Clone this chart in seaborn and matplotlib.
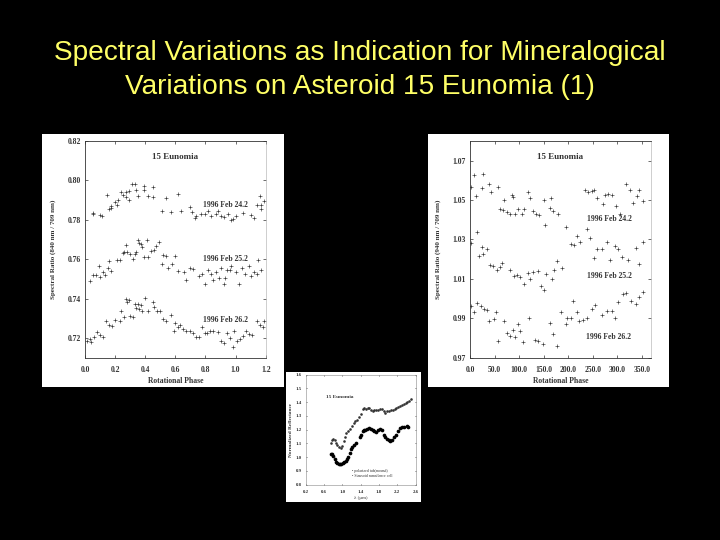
import pandas as pd
import numpy as np
import matplotlib
matplotlib.use('Agg')
import matplotlib.pyplot as plt
import seaborn as sns

title_lines = ['Spectral Variations as Indication for Mineralogical', 'Variations on Asteroid 15 Eunomia (1)']

# left panel, 840/709 style ratio vs phase
feb24_x = [.05,.05,.10,.11,.145,.16,.17,.175,.20,.21,.22,.24,.25,.27,.27,.29,.29,.31,.33,.34,.355,.39,.39,.42,.45,.45,.51,.54,.57,.62,.64,.695,.71,.73,.74,.77,.80,.82,.84,.87,.88,.90,.92,.95,.97,.98,1.0,1.05,1.10,1.12,1.14,1.16,1.17,1.17,1.19]
feb24_y = [.783,.7835,.7825,.782,.7925,.7855,.787,.786,.789,.7875,.79,.794,.7925,.794,.7915,.7945,.79,.798,.798,.795,.792,.797,.795,.792,.7965,.7915,.7845,.791,.784,.793,.7845,.7865,.784,.781,.782,.783,.783,.7845,.782,.783,.7845,.782,.7815,.783,.78,.7805,.782,.7835,.7825,.781,.7875,.792,.7875,.7855,.7895]
feb25_x = [.03,.05,.07,.09,.10,.12,.13,.15,.16,.17,.21,.23,.25,.26,.27,.28,.30,.32,.33,.34,.35,.36,.37,.38,.39,.41,.42,.44,.46,.47,.49,.51,.52,.54,.55,.58,.60,.62,.66,.67,.70,.72,.76,.78,.80,.82,.84,.85,.87,.89,.90,.92,.93,.94,.96,.97,1.0,1.02,1.04,1.06,1.09,1.10,1.12,1.14,1.15,1.17]
feb25_y = [.749,.752,.752,.7565,.751,.7535,.752,.7555,.759,.754,.7595,.7595,.763,.7635,.767,.7635,.7625,.760,.7625,.7635,.770,.768,.7675,.766,.761,.7695,.761,.764,.7645,.7665,.7685,.7575,.762,.7615,.7555,.7575,.7615,.754,.7535,.7495,.7555,.755,.7515,.7525,.7475,.7545,.7525,.7495,.7535,.7505,.7555,.7475,.7505,.7545,.7545,.7565,.7535,.7475,.7555,.7525,.7565,.7515,.7535,.7525,.7595,.7545]
feb26_x = [.01,.03,.04,.06,.08,.10,.12,.14,.16,.18,.20,.23,.24,.26,.27,.28,.29,.30,.32,.33,.34,.35,.36,.37,.38,.40,.42,.45,.46,.48,.50,.52,.54,.57,.59,.60,.62,.63,.65,.67,.70,.72,.74,.76,.78,.80,.81,.83,.85,.88,.90,.92,.94,.96,.98,.99,1.01,1.03,1.05,1.07,1.09,1.11,1.14,1.16,1.18,1.19]
feb26_y = [.7185,.7195,.718,.7205,.723,.7215,.7205,.7285,.7265,.726,.729,.7285,.7335,.7305,.740,.7385,.7395,.731,.7305,.7375,.735,.7375,.7345,.7365,.7335,.7405,.7335,.7385,.7355,.7335,.7335,.7295,.7285,.7315,.7235,.7275,.7255,.7265,.7245,.7235,.7235,.7225,.7205,.7205,.7255,.7225,.7225,.7235,.7235,.7230,.7185,.7175,.7225,.7200,.7155,.7235,.7185,.7195,.7210,.7235,.7220,.7215,.7285,.7265,.7255,.7285]

# right panel, 940/709 ratio vs rotational phase
r24_x = [3,8,12,25,27,38,42,57,62,68,70,75,82,85,88,92,98,105,110,118,122,128,135,140,150,152,162,165,170,180,235,240,248,252,258,270,275,282,290,298,305,318,325,332,340,345,352]
r24_y = [1.0565,1.0625,1.0520,1.0560,1.0630,1.0580,1.0540,1.0565,1.0455,1.0450,1.0500,1.0440,1.0430,1.0525,1.0515,1.0430,1.0455,1.0430,1.0455,1.0540,1.0510,1.0445,1.0430,1.0425,1.0500,1.0375,1.0460,1.0510,1.0445,1.0430,1.0550,1.0540,1.0545,1.0550,1.0510,1.0480,1.0525,1.0530,1.0525,1.0470,1.0430,1.0580,1.0550,1.0485,1.0520,1.0550,1.0495]
r25_x = [2,14,18,24,27,35,40,47,55,62,65,82,90,95,102,110,118,122,128,138,145,150,155,168,172,178,188,195,205,212,218,225,238,245,252,258,268,278,285,295,302,310,322,338,345,352]
r25_y = [1.0280,1.0340,1.0215,1.0260,1.0225,1.0250,1.0170,1.0165,1.0145,1.0160,1.0180,1.0145,1.0115,1.0120,1.0110,1.0075,1.0130,1.0100,1.0135,1.0140,1.0065,1.0045,1.0125,1.0100,1.0145,1.0190,1.0155,1.0365,1.0275,1.0270,1.0320,1.0285,1.0355,1.0310,1.0205,1.0250,1.0250,1.0285,1.0195,1.0265,1.0250,1.0210,1.0195,1.0255,1.0175,1.0285]
r26_x = [2,8,14,22,28,34,38,48,52,58,70,75,82,88,92,98,102,108,120,132,138,148,162,170,178,185,195,198,205,210,218,222,230,238,248,255,268,278,290,295,302,312,318,328,338,345,352]
r26_y = [.9960,.9930,.9980,.9960,.9945,.9940,.9885,.9895,.9930,.9785,.9885,.9825,.9810,.9840,.9805,.9870,.9835,.9780,.9900,.9790,.9785,.9770,.9875,.9820,.9760,.9930,.9870,.9900,.9900,.9990,.9930,.9885,.9890,.9900,.9945,.9965,.9915,.9935,.9935,.9900,.9985,1.0025,1.0030,.9990,.9975,1.0010,1.0035]

# bottom panel, reflectance spectra
up_x = [.75,.78,.80,.83,.86,.89,.93,.96,.99,1.03,1.06,1.09,1.13,1.17,1.21,1.25,1.27,1.32,1.37,1.41,1.45,1.48,1.52,1.55,1.58,1.62,1.66,1.70,1.74,1.78,1.82,1.86,1.90,1.94,1.98,2.02,2.06,2.10,2.14,2.18,2.22,2.26,2.30,2.34,2.38,2.42,2.46,2.50]
up_y = [1.103,1.125,1.130,1.122,1.105,1.088,1.075,1.070,1.085,1.115,1.145,1.176,1.190,1.205,1.225,1.250,1.262,1.270,1.295,1.315,1.350,1.355,1.353,1.360,1.358,1.345,1.338,1.340,1.345,1.342,1.350,1.353,1.335,1.325,1.333,1.335,1.340,1.345,1.350,1.360,1.368,1.372,1.380,1.385,1.395,1.405,1.412,1.425]
lo_x = [.745,.77,.80,.83,.86,.89,.92,.95,.98,1.01,1.04,1.07,1.10,1.13,1.16,1.19,1.22,1.25,1.29,1.39,1.41,1.44,1.47,1.50,1.54,1.58,1.62,1.66,1.70,1.74,1.78,1.83,1.86,1.90,1.94,1.98,2.02,2.05,2.09,2.13,2.18,2.22,2.26,2.30,2.35,2.40,2.43]
lo_y = [1.023,1.020,1.006,.985,.968,.958,.953,.950,.952,.955,.962,.975,.990,1.005,1.030,1.060,1.075,1.090,1.100,1.150,1.165,1.190,1.195,1.200,1.205,1.212,1.208,1.200,1.188,1.182,1.198,1.207,1.195,1.165,1.150,1.130,1.122,1.115,1.125,1.145,1.165,1.190,1.215,1.222,1.218,1.225,1.220]

left_df = pd.DataFrame({'x': feb24_x + feb25_x + feb26_x, 'y': feb24_y + feb25_y + feb26_y})
right_df = pd.DataFrame({'x': r24_x + r25_x + r26_x, 'y': r24_y + r25_y + r26_y})

sns.set_theme(style='white')
plt.rcParams['font.family'] = ['Liberation Serif', 'DejaVu Serif']
dark = '#333333'

W, H = 720, 540
fig = plt.figure(figsize=(7.2, 5.4), dpi=100, facecolor='black')

def box(x0, y0, x1, y1):
    return [x0 / W, 1 - y1 / H, (x1 - x0) / W, (y1 - y0) / H]

def paper(x0, y0, x1, y1):
    a = fig.add_axes(box(x0, y0, x1, y1), facecolor='white')
    a.set_xticks([])
    a.set_yticks([])
    sns.despine(ax=a, left=True, bottom=True)
    return a

def style(a, size=5.5, pad=6):
    for s in a.spines.values():
        s.set_visible(True)
        s.set_linewidth(0.6)
        s.set_color(dark)
    a.spines['right'].set_color('#aaaaaa')
    a.spines['right'].set_linewidth(0.4)
    a.tick_params(direction='in', length=2, width=0.5, labelsize=size, colors=dark, pad=pad, top=True, right=True, bottom=True, left=True)
    a.tick_params(axis='y', pad=3)
    for t in a.get_xticklabels() + a.get_yticklabels():
        t.set_fontweight('bold')

paper(42, 134, 284, 387)
paper(428, 134, 669, 387)
paper(286, 372, 421, 502)

# left
ax = fig.add_axes(box(85, 141, 265.7, 357.7), facecolor='white')
sns.scatterplot(data=left_df, x='x', y='y', marker='+', color=dark, s=8, linewidth=0.45, ax=ax)
ax.set_xlim(0, 1.2)
ax.set_ylim(0.71, 0.82)
ax.set_xticks([0, .2, .4, .6, .8, 1.0, 1.2])
ax.set_xticklabels(['0.0', '0.2', '0.4', '0.6', '0.8', '1.0', '1.2'])
ax.set_yticks([.72, .74, .76, .78, .80, .82])
ax.set_yticklabels(['0.72', '0.74', '0.76', '0.78', '0.80', '0.82'])
style(ax)
ax.set_xlabel('Rotational Phase', fontsize=5.5, fontweight='bold', color=dark, labelpad=2)
ax.set_ylabel('Spectral Ratio (840 nm / 709 nm)', fontsize=5, fontweight='bold', color=dark, labelpad=8)
ax.text(0.6, 0.8117, '15 Eunomia', fontsize=6.5, fontweight='bold', color=dark, ha='center', va='center')
for lbl, yy in zip(['1996 Feb 24.2', '1996 Feb 25.2', '1996 Feb 26.2'], [.7875, .7600, .7290]):
    ax.text(0.93, yy, lbl, fontsize=5.5, fontweight='bold', color=dark, ha='center', va='center')

# right
ax = fig.add_axes(box(470, 141, 650.7, 357.7), facecolor='white')
sns.scatterplot(data=right_df, x='x', y='y', marker='+', color=dark, s=8, linewidth=0.45, ax=ax)
ax.set_xlim(0, 368)
ax.set_ylim(0.97, 1.08)
ax.set_xticks([0, 50, 100, 150, 200, 250, 300, 350])
ax.set_xticklabels(['0.0', '50.0', '100.0', '150.0', '200.0', '250.0', '300.0', '350.0'])
ax.set_yticks([.97, .99, 1.01, 1.03, 1.05, 1.07])
ax.set_yticklabels(['0.97', '0.99', '1.01', '1.03', '1.05', '1.07'])
style(ax)
ax.set_xlabel('Rotational Phase', fontsize=5.5, fontweight='bold', color=dark, labelpad=2)
ax.set_ylabel('Spectral Ratio (940 nm / 709 nm)', fontsize=5, fontweight='bold', color=dark, labelpad=8)
ax.text(183, 1.0717, '15 Eunomia', fontsize=6.5, fontweight='bold', color=dark, ha='center', va='center')
for lbl, yy in zip(['1996 Feb 24.2', '1996 Feb 25.2', '1996 Feb 26.2'], [1.0406, 1.0115, .9803]):
    ax.text(283, yy, lbl, fontsize=5.5, fontweight='bold', color=dark, ha='center', va='center')

# bottom
ax = fig.add_axes(box(305.7, 374.7, 415.7, 484.7), facecolor='white')
sns.scatterplot(x=up_x, y=up_y, marker='o', color=dark, s=3.5, linewidth=0, ax=ax)
sns.scatterplot(x=lo_x, y=lo_y, marker='o', color='black', s=7, linewidth=0, ax=ax)
ax.set_xlim(0.2, 2.6)
ax.set_ylim(0.8, 1.6)
ax.set_xticks([.2, .6, 1.0, 1.4, 1.8, 2.2, 2.6])
ax.set_xticklabels(['0.2', '0.6', '1.0', '1.4', '1.8', '2.2', '2.6'])
ax.set_yticks(np.arange(8, 17) / 10)
ax.set_yticklabels(['0.8', '0.9', '1.0', '1.1', '1.2', '1.3', '1.4', '1.5', '1.6'])
style(ax, 3.5, pad=4)
ax.tick_params(length=1)
for s in ax.spines.values():
    s.set_color('#888888')
    s.set_linewidth(0.4)
ax.set_xlabel('λ (µm)', fontsize=3.5, color=dark, labelpad=1)
ax.set_ylabel('Normalized Reflectance', fontsize=3.8, fontweight='bold', color=dark, labelpad=2)
ax.text(0.65, 1.44, '15 Eunomia', fontsize=3.8, fontweight='bold', color=dark, va='center')
ax.text(1.2, 0.90, '• polarized tub(mound)', fontsize=2.8, color=dark, va='center')
ax.text(1.2, 0.863, '• Sinusoid rumsilence cell', fontsize=2.8, color=dark, va='center')

for line, yp in zip(title_lines, [60, 93.5]):
    fig.text(0.5, 1 - yp / H, line, family=['Liberation Sans', 'DejaVu Sans'], fontsize=20.2, color='#ffff66', ha='center', va='baseline')

fig.savefig('out.png', dpi=100, facecolor='black')
